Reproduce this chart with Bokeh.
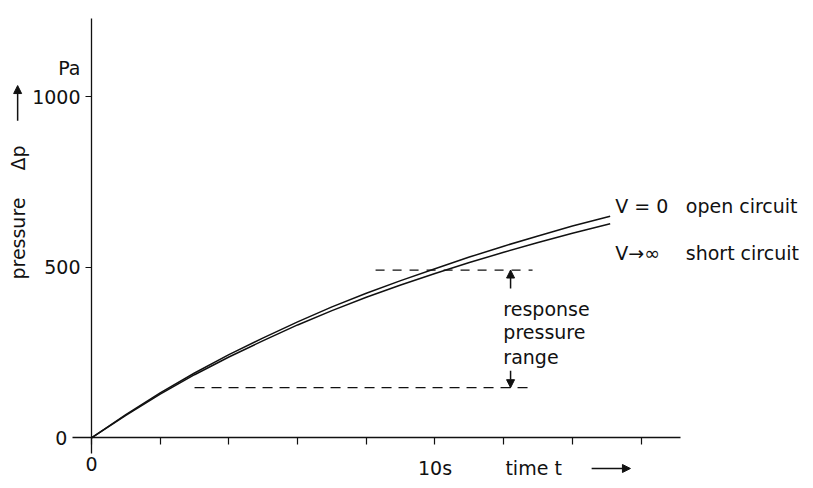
import math
from bokeh.plotting import figure
from bokeh.models import Range1d, FixedTicker, Label, Arrow, NormalHead
from bokeh.embed import file_html
from bokeh.resources import INLINE

# ---- data ----
t_s = [0, 1, 2, 3, 4, 5, 6, 7, 8, 9, 10, 11, 12, 13, 14, 15.1]
p_open = [0, 68, 132, 190, 244, 293, 340, 384, 424, 461, 496, 530, 562, 592, 621, 650]
p_short = [0, 66, 128, 185, 237, 285, 331, 373, 412, 448, 482, 514, 544, 573, 600, 628]

x_ticks = [0, 2, 4, 6, 8, 10, 12, 14, 16]
x_tick_labels = {0: "0", 10: "10s"}
y_ticks = [500, 1000]
y_tick_labels = {500: "500", 1000: "1000"}

range_hi = 492
range_lo = 147
hi_span = [8.27, 12.84]
lo_span = [3.0, 12.8]
arrow_t = 12.2

FONT = "DejaVu Sans"
FS = "19px"
INK = "#111111"

p = figure(width=805, height=480, min_border=0,
           x_range=Range1d(-2.649, 20.786), y_range=Range1d(-125.2, 1282.4),
           output_backend="svg", toolbar_location=None, title=None)
p.outline_line_color = None
p.grid.visible = False
p.background_fill_color = "white"
p.border_fill_color = "white"

# axes crossing at the origin
xa = p.xaxis[0]
ya = p.yaxis[0]
xa.fixed_location = 0
ya.fixed_location = 0
xa.bounds = (-0.55, 17.15)
ya.bounds = (-46, 1230)
xa.ticker = FixedTicker(ticks=x_ticks)
ya.ticker = FixedTicker(ticks=y_ticks)
xa.major_label_overrides = {tk: "" for tk in x_ticks}
ya.major_label_overrides = {tk: "" for tk in y_ticks}
for ax in (xa, ya):
    ax.axis_line_color = INK
    ax.axis_line_width = 1.3
    ax.major_tick_line_color = INK
    ax.major_tick_line_width = 1.2
    ax.major_tick_in = 0
    ax.minor_tick_line_color = None
    ax.major_label_text_font_size = "1px"
xa.major_tick_out = 7
ya.major_tick_out = 6

# curves
p.line(t_s, p_open, line_color=INK, line_width=1.5)
p.line(t_s, p_short, line_color=INK, line_width=1.5)

# dashed range lines
p.line(hi_span, [range_hi, range_hi], line_color=INK, line_width=1.3, line_dash="9 8")
p.line(lo_span, [range_lo, range_lo], line_color=INK, line_width=1.3, line_dash="10 7")

# small range arrows
p.add_layout(Arrow(end=NormalHead(size=8, fill_color=INK, line_color=INK),
                   x_start=arrow_t, y_start=438, x_end=arrow_t, y_end=range_hi,
                   line_color=INK, line_width=1.5))
p.add_layout(Arrow(end=NormalHead(size=8, fill_color=INK, line_color=INK),
                   x_start=arrow_t, y_start=197, x_end=arrow_t, y_end=range_lo,
                   line_color=INK, line_width=1.5))

def lab(x, y, text, align="left", baseline="alphabetic", angle=0):
    p.add_layout(Label(x=x, y=y, text=text, text_align=align, text_baseline=baseline,
                       angle=angle, text_font=FONT, text_font_size=FS, text_color=INK))

# tick labels, placed at the tick values
for tk, txt in x_tick_labels.items():
    lab(tk, -56, txt, align="center", baseline="top")
for tk, txt in y_tick_labels.items():
    lab(-0.32, tk, txt, align="right", baseline="middle")
lab(-0.70, 0, "0", align="right", baseline="middle")

# annotations
lab(11.99, 379, "response")
lab(11.99, 309, "pressure")
lab(11.99, 238, "range")
lab(15.25, 681, "V = 0")
lab(17.3, 681, "open circuit")
lab(15.25, 543, "V→∞")
lab(17.3, 543, "short circuit")

# axis titles
lab(-0.32, 1083, "Pa", align="right", baseline="middle")
lab(-2.15, 464, "pressure", align="left", baseline="middle", angle=math.pi / 2)
lab(-2.15, 784, "Δp", align="left", baseline="middle", angle=math.pi / 2)
p.add_layout(Arrow(end=NormalHead(size=8, fill_color=INK, line_color=INK),
                   x_start=-2.15, y_start=930, x_end=-2.15, y_end=1033,
                   line_color=INK, line_width=1.5))
lab(12.05, -90, "time t", align="left", baseline="middle")
p.add_layout(Arrow(end=NormalHead(size=8, fill_color=INK, line_color=INK),
                   x_start=14.56, y_start=-90, x_end=15.69, y_end=-90,
                   line_color=INK, line_width=1.5))

open("out.html", "w").write(file_html(p, INLINE))
